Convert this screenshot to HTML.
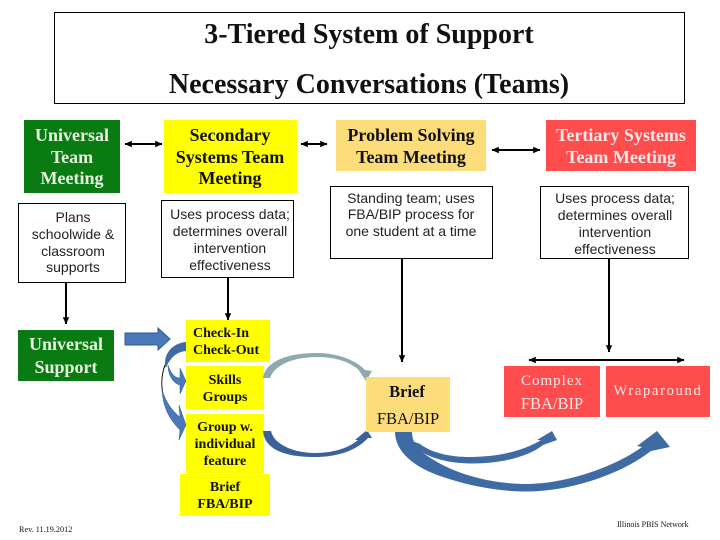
<!DOCTYPE html>
<html><head><meta charset="utf-8"><style>
html,body{margin:0;padding:0;background:#fff;width:720px;height:540px;overflow:hidden}
svg{display:block}
.t{font-family:"Liberation Serif",serif;font-weight:bold;text-anchor:middle}
.s{font-family:"Liberation Sans",sans-serif;font-size:14px;text-anchor:middle;fill:#222}
.w{fill:#e8f5e0}.k{fill:#111}.p{fill:#fde8e8}
</style></head><body>
<svg width="720" height="540" viewBox="0 0 720 540" xmlns="http://www.w3.org/2000/svg">
<defs>
<marker id="a" markerWidth="4" markerHeight="4" refX="3.4" refY="2" orient="auto-start-reverse" markerUnits="strokeWidth"><path d="M0 0.4L3.6 2L0 3.6Z" fill="#000"/></marker>
</defs>
<rect x="54.500" y="12.500" width="630" height="91" fill="#fff" stroke="#000"/>
<text class="t k" x="369" y="43" font-size="28">3-Tiered System of Support</text>
<text class="t k" x="369" y="93" font-size="28">Necessary Conversations (Teams)</text>

<rect x="24" y="120" width="96" height="73" fill="#0a7a12"/>
<text class="t w" x="72" y="141" font-size="18">Universal</text>
<text class="t w" x="72" y="163" font-size="18">Team</text>
<text class="t w" x="72" y="184" font-size="18">Meeting</text>
<rect x="164" y="120" width="133" height="73" fill="#ffff00"/>
<text class="t k" x="230" y="141" font-size="18">Secondary</text>
<text class="t k" x="230" y="163" font-size="18">Systems Team</text>
<text class="t k" x="230" y="184" font-size="18">Meeting</text>
<rect x="336" y="120" width="150" height="51" fill="#fddc7a"/>
<text class="t k" x="411" y="141" font-size="18">Problem Solving</text>
<text class="t k" x="411" y="163" font-size="18">Team Meeting</text>
<rect x="546" y="120" width="150" height="51" fill="#ff4d4d"/>
<text class="t p" x="621" y="141" font-size="18">Tertiary Systems</text>
<text class="t p" x="621" y="163" font-size="18">Team Meeting</text>

<rect x="18.500" y="203.500" width="107" height="79" fill="#fff" stroke="#000"/>
<text class="s" x="73" y="222">Plans</text><text class="s" x="73" y="239">schoolwide &amp;</text><text class="s" x="73" y="256">classroom</text><text class="s" x="73" y="272">supports</text>
<rect x="161.500" y="200.500" width="132" height="77" fill="#fff" stroke="#000"/>
<text class="s" x="230" y="219">Uses process data;</text><text class="s" x="230" y="236">determines overall</text><text class="s" x="230" y="253">intervention</text><text class="s" x="230" y="270">effectiveness</text>
<rect x="330.500" y="186.500" width="162" height="72" fill="#fff" stroke="#000"/>
<text class="s" x="411" y="203">Standing team; uses</text><text class="s" x="411" y="219">FBA/BIP process for</text><text class="s" x="411" y="236">one student at a time</text>
<rect x="540.500" y="186.500" width="148" height="72" fill="#fff" stroke="#000"/>
<text class="s" x="615" y="203">Uses process data;</text><text class="s" x="615" y="220">determines overall</text><text class="s" x="615" y="237">intervention</text><text class="s" x="615" y="254">effectiveness</text>

<g stroke="#000" stroke-width="2" fill="none">
<path d="M125 144H162" marker-start="url(#a)" marker-end="url(#a)"/>
<path d="M301 144H327" marker-start="url(#a)" marker-end="url(#a)"/>
<path d="M492 150H540" marker-start="url(#a)" marker-end="url(#a)"/>
<path d="M66 283V324" marker-end="url(#a)"/>
<path d="M228 278V320" marker-end="url(#a)"/>
<path d="M402 258V362" marker-end="url(#a)"/>
<path d="M609 258V352" marker-end="url(#a)"/>
<path d="M529 360H684" marker-start="url(#a)" marker-end="url(#a)"/>
</g>

<rect x="18" y="330" width="96" height="51" fill="#0a7a12"/>
<text class="t w" x="66" y="350" font-size="18">Universal</text>
<text class="t w" x="66" y="373" font-size="18">Support</text>

<path d="M125 333H158V328L170 339L158 350V345H125Z" fill="#4a78b8" stroke="#2f5a92"/>

<rect x="186" y="320" width="84" height="42" fill="#ffff00"/>
<text class="t k" x="193" y="337" font-size="14" style="text-anchor:start">Check-In</text>
<text class="t k" x="193" y="354" font-size="14" style="text-anchor:start">Check-Out</text>
<rect x="186" y="366" width="78" height="43" fill="#ffff00"/>
<text class="t k" x="225" y="384" font-size="14">Skills</text>
<text class="t k" x="225" y="401" font-size="14">Groups</text>
<rect x="186" y="414" width="78" height="59" fill="#ffff00"/>
<text class="t k" x="225" y="431" font-size="14">Group w.</text>
<text class="t k" x="225" y="448" font-size="14">individual</text>
<text class="t k" x="225" y="465" font-size="14">feature</text>
<rect x="180" y="474" width="90" height="42" fill="#ffff00"/>
<text class="t k" x="225" y="491" font-size="14">Brief</text>
<text class="t k" x="225" y="508" font-size="14">FBA/BIP</text>

<path d="M186 342V351C176 352 170 358 166 368C163 362 166 344 186 342Z" fill="#3f6ba5"/>
<path d="M165 365C161 376 161 388 164 398" fill="none" stroke="#000" stroke-width="1"/>
<path d="M162 390C166 402 172 411 180 417L179 405L186 425L179 440L180 430C170 420 163 408 162 390Z" fill="#4a78b8" stroke="#2f5a92" stroke-width="0.500"/>
<path d="M168 365C171 374 175 378 180 378V368L186 381L180 394V385C174 384 168 376 168 365Z" fill="#4a78b8" stroke="#2f5a92" stroke-width="0.500"/>

<path d="M263 378C266 360 290 353 317 353C340 353 358 362 365 370L372 371L366 381L358 369L361 372C352 363 338 357 317 357C295 357 275 364 270 378Z" fill="#8fa9ae"/>
<path d="M263 431H271C274 445 295 453 315 453C335 453 350 447 358 440L355 440L367 430L372 438L368 438C355 452 335 457 315 457C290 457 265 452 263 431Z" fill="#3a6299"/>

<rect x="366" y="377" width="84" height="55" fill="#fddc7a"/>
<text class="t k" x="407" y="397" font-size="16.500">Brief</text>
<text class="t k" x="408" y="424" font-size="16.500" style="font-weight:normal">FBA/BIP</text>

<rect x="504" y="366" width="96" height="51" fill="#ff4d4d"/>
<text class="t p" x="552" y="385" font-size="15" letter-spacing="1" style="font-weight:normal">Complex</text>
<text class="t p" x="552" y="409" font-size="16.500" style="font-weight:normal">FBA/BIP</text>
<rect x="606" y="366" width="104" height="51" fill="#ff4d4d"/>
<text class="t p" x="658" y="395" font-size="14.500" letter-spacing="1.700" style="font-weight:normal">Wraparound</text>

<path d="M410 440C418 454 440 463 470 463.500C500 464 528 457 543 445L557 440L552 431L537 440L541 440C525 450 500 457 470 457C450 457 432 453 420 444Z" fill="#3f6ba5"/>
<path d="M395 432C395 452 415 468 443 477C475 488 505 491.500 527 491.500C565 491.500 617 477 651 451L670 447L657 431L637 446L642 447C615 467 565 484 527 484C495 484 462 476 439 463C423 454 412 446 412 432Z" fill="#3f6ba5"/>

<text x="19" y="532" font-family="Liberation Serif, serif" font-size="8.200" fill="#111">Rev. 11.19.2012</text>
<text x="617" y="527" font-family="Liberation Serif, serif" font-size="8" fill="#111">Illinois PBIS Network</text>
</svg>
</body></html>
